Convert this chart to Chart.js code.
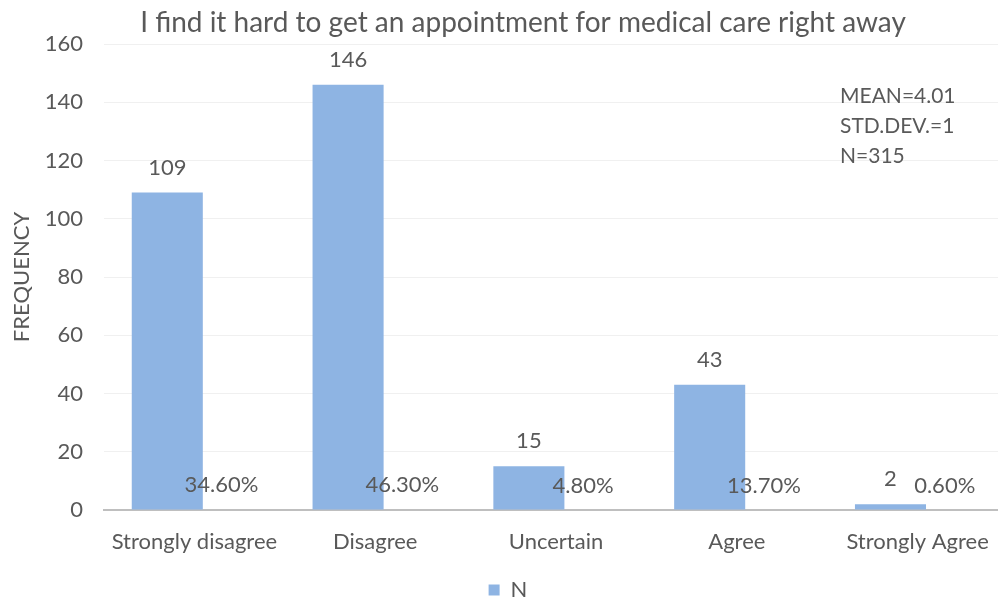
<!DOCTYPE html>
<html>
<head>
<meta charset="utf-8">
<script src="https://cdn.jsdelivr.net/npm/chart.js@4"></script>
<style>
  html, body { margin: 0; padding: 0; background: #fff; overflow: hidden; }
  #wrap { width: 1012px; height: 601px; }
</style>
</head>
<body>
<div id="wrap"><canvas id="grafico"></canvas></div>
<script>
// dados
const categorias = ["Strongly disagree", "Disagree", "Uncertain", "Agree", "Strongly Agree"];
const frequencias = [109, 146, 15, 43, 2];
const percentuais = [34.6, 46.3, 4.8, 13.7, 0.6];
const yMax = 160;
const yPasso = 20;
const titulo = "I find it hard to get an appointment for medical care right away";
const estatisticas = ["MEAN=4.01", "STD.DEV.=1", "N=315"];

const corTexto = "#595959";
const fonte = "Lato, 'Liberation Sans', sans-serif";

// rotulos, titulo e caixa de estatisticas
const rotulosPlugin = {
  id: "rotulos",
  afterDatasetsDraw(chart) {
    const ctx = chart.ctx;
    ctx.save();
    ctx.fillStyle = corTexto;
    ctx.font = "22px " + fonte;
    ctx.textAlign = "center";
    ctx.textBaseline = "middle";
    chart.getDatasetMeta(0).data.forEach((bar, i) => {
      ctx.fillText(String(frequencias[i]), bar.x, bar.y - 25);
    });
    chart.getDatasetMeta(1).data.forEach((bar, i) => {
      ctx.fillText(percentuais[i].toFixed(2) + "%", bar.x, bar.y - 24);
    });

    ctx.font = "28px " + fonte;
    ctx.fillText(titulo, 523, 23);

    ctx.font = "21px " + fonte;
    ctx.textAlign = "left";
    estatisticas.forEach((t, i) => {
      ctx.fillText(t, 840, 96 + i * 30);
    });
    ctx.restore();
  }
};

const ctx = document.getElementById("grafico").getContext("2d");

let chart = new Chart(ctx, {
  type: "bar",
  data: {
    labels: categorias,
    datasets: [
      {
        label: "N",
        data: frequencias,
        backgroundColor: "#8eb4e3",
        barPercentage: 1.31,
        categoryPercentage: 0.6
      },
      {
        label: "%",
        data: percentuais.map((p) => p / 100),
        backgroundColor: "rgba(0,0,0,0)",
        barPercentage: 1,
        categoryPercentage: 0.6
      }
    ]
  },
  options: {
    responsive: true,
    maintainAspectRatio: false,
    animation: false,
    layout: { padding: { top: 44, right: 4, left: 8, bottom: -10 } },
    plugins: {
      title: { display: false },
      tooltip: { enabled: false },
      legend: {
        position: "bottom",
        labels: {
          filter: (item) => item.datasetIndex === 0,
          boxWidth: 11,
          boxHeight: 11,
          color: corTexto,
          font: { size: 22, family: fonte, lineHeight: 1 },
          padding: 1
        }
      }
    },
    scales: {
      x: {
        afterFit: (scale) => { scale.height = 68; },
        grid: { display: false, drawTicks: false },
        border: { display: true, color: "#bfbfbf", width: 2 },
        ticks: { color: corTexto, font: { size: 22, family: fonte }, padding: 19 }
      },
      y: {
        min: 0,
        max: yMax,
        afterFit: (scale) => { scale.width = 96; },
        ticks: { stepSize: yPasso, color: corTexto, font: { size: 22, family: fonte }, padding: 21 },
        grid: { color: "#f0f0f0", drawTicks: false },
        border: { display: false },
        title: {
          display: true,
          text: "FREQUENCY",
          color: corTexto,
          font: { size: 22, family: fonte },
          padding: 1
        }
      }
    }
  },
  plugins: [rotulosPlugin]
});
</script>
</body>
</html>
